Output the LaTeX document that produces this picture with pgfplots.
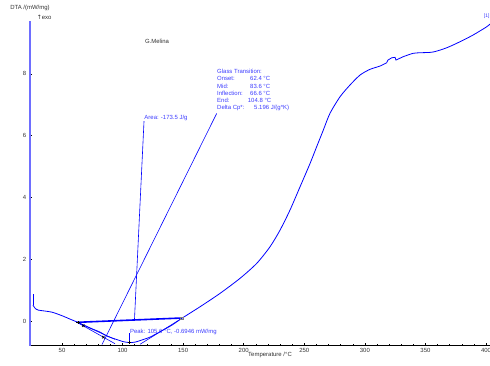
\documentclass[border=0pt]{standalone}
\usepackage{pgfplots}
\pgfplotsset{compat=1.18}
\usepackage{fontspec}
\setmainfont{Liberation Sans}
\newfontfamily\dejavu{DejaVu Sans}
\definecolor{annot}{RGB}{60,60,255}
\definecolor{ylinec}{RGB}{110,110,255}
\definecolor{txtgray}{RGB}{50,50,50}
\newcommand{\sm}{\fontsize{6}{7.4}\selectfont}
\begin{document}
\begin{tikzpicture}
\begin{axis}[
  scale only axis,
  width=460bp, height=324.8bp,
  xmin=23.58, xmax=403.3,
  ymin=-0.79, ymax=9.72,
  axis x line*=bottom, axis y line*=left,
  x axis line style={black, line width=0.6bp, -},
  y axis line style={ylinec, line width=1.4bp, -},
  xtick={50,100,...,400}, minor x tick num=4,
  ytick={0,2,...,8}, minor y tick num=1,
  major tick length=2.5bp, minor tick length=1.5bp,
  every tick/.style={black, line width=0.5bp},
  tick label style={font=\sm, text=txtgray},
  /pgf/number format/assume math mode=true,
  xticklabel style={inner sep=0pt, yshift=-2.5bp},
  yticklabel style={inner sep=0pt, xshift=-3.5bp},
  xlabel={Temperature /°C},
  xlabel style={at={(rel axis cs:0.474,0)}, anchor=north west, inner sep=0pt, yshift=-6.5bp, font=\sm, text=txtgray},
  clip=false,
]
% main DTA curve
\addplot[blue, line width=0.8bp] coordinates {(26.06,0.874)(26.06,0.518)};
\addplot[blue, line width=0.8bp, smooth, tension=0.45] coordinates {
(26.06,0.518)(27.7,0.421)(30.4,0.356)(41.5,0.291)(50.8,0.162)
(56.6,0.065)(63.2,-0.042)(69.0,-0.146)(74.8,-0.249)(81.4,-0.356)(87.1,-0.485)
(95.4,-0.599)(100.4,-0.663)(105.6,-0.695)(110.3,-0.680)(114.4,-0.631)(122.6,-0.518)
(133.4,-0.291)(140.8,-0.129)(148.8,0.087)(163.9,0.463)(180.4,0.896)(196.9,1.382)
(210.7,1.867)(221.7,2.405)(230.0,2.945)(238.2,3.592)(246.5,4.346)(254.8,5.104)
(260.2,5.641)(265.7,6.181)(271.2,6.722)(279.5,7.259)(287.7,7.638)(296.0,7.961)
(304.2,8.146)(312.5,8.252)(318.0,8.359)};
\addplot[blue, line width=0.8bp] coordinates {
(318.0,8.359)(319.1,8.447)(322.2,8.521)(324.9,8.534)(325.7,8.447)(331.5,8.553)};
\addplot[blue, line width=0.8bp, smooth, tension=0.45] coordinates {
(331.5,8.553)(339.7,8.663)(345.5,8.683)(356.2,8.706)(367.6,8.845)
(378.5,9.039)(389.3,9.256)(400.6,9.524)(403.3,9.612)};
% area baseline
\addplot[blue, line width=1.6bp] coordinates {(62.4,-0.04)(148.8,0.10)};
% area label line
\addplot[blue, line width=0.6bp] coordinates {(117.7,6.47)(109.8,0.03)};
% glass transition label line
\addplot[blue, line width=0.6bp] coordinates {(177.7,6.72)(83.0,-0.76)};
% tangent lines
\addplot[blue, line width=0.6bp] coordinates {(62.4,-0.04)(93.7,-0.59)};
\addplot[blue, line width=0.6bp] coordinates {(62.4,-0.04)(93.7,-0.73)};
\addplot[blue, line width=0.6bp] coordinates {(148.8,0.087)(114.4,-0.75)};
% peak marker line
\addplot[blue, line width=0.6bp] coordinates {(105.6,-0.40)(105.6,-0.695)};
% markers
\addplot[only marks, mark=+, mark size=1.8bp, black, line width=0.6bp] coordinates {(63.2,-0.05)(105.6,-0.695)};
\addplot[only marks, mark=x, mark size=1.8bp, black, line width=0.6bp] coordinates {(67.6,-0.15)(84.1,-0.52)};
\addplot[only marks, mark=square, mark size=1.2bp, gray, line width=0.5bp] coordinates {(148.8,0.10)};
% texts
\node[font=\sm, text=txtgray, inner sep=0pt] at (axis cs:23.58,10.12) {DTA /(mW/mg)};
\node[font=\sm, text=txtgray, inner sep=0pt, anchor=west] at (axis cs:29.0,9.83) {{\dejavu ↑}exo};
\node[font=\sm, text=txtgray, inner sep=0pt] at (axis cs:128.4,9.06) {G.Melina};
\node[font=\sm, text=annot, inner sep=0pt, anchor=south west] at (axis cs:117.9,6.49) {Area: -173.5 J/g};
\node[font=\sm, text=annot, inner sep=0pt, anchor=west] at (axis cs:106.0,-0.346) {Peak: 105.6 °C, -0.6946 mW/mg};
\node[font=\sm, text=annot, inner sep=0pt, anchor=west] at (axis cs:177.95,8.091) {Glass Transition:};
\node[font=\sm, text=annot, inner sep=0pt, anchor=west] at (axis cs:177.95,7.848) {Onset:};
\node[font=\sm, text=annot, inner sep=0pt, anchor=west] at (axis cs:177.95,7.605) {Mid:};
\node[font=\sm, text=annot, inner sep=0pt, anchor=west] at (axis cs:177.95,7.369) {Inflection:};
\node[font=\sm, text=annot, inner sep=0pt, anchor=west] at (axis cs:177.95,7.129) {End:};
\node[font=\sm, text=annot, inner sep=0pt, anchor=west] at (axis cs:177.95,6.883) {Delta Cp*:};
\node[font=\sm, text=annot, inner sep=0pt, anchor=west] at (axis cs:205.19,7.848) {62.4 °C};
\node[font=\sm, text=annot, inner sep=0pt, anchor=west] at (axis cs:205.19,7.605) {83.6 °C};
\node[font=\sm, text=annot, inner sep=0pt, anchor=west] at (axis cs:205.19,7.369) {66.6 °C};
\node[font=\sm, text=annot, inner sep=0pt, anchor=west] at (axis cs:203.29,7.129) {104.8 °C};
\node[font=\sm, text=annot, inner sep=0pt, anchor=west] at (axis cs:208.49,6.883) {5.196 J/(g*K)};
\node[font=\fontsize{5}{6}\selectfont, text=annot, inner sep=0pt, anchor=east] at (axis cs:403.0,9.86) {[1]};
\coordinate (BL) at (axis cs:-1.18,-1.424);
\coordinate (TR) at (axis cs:403.3,10.39);
\end{axis}
\pgfresetboundingbox
\useasboundingbox (BL) rectangle (TR);
\end{tikzpicture}
\end{document}
